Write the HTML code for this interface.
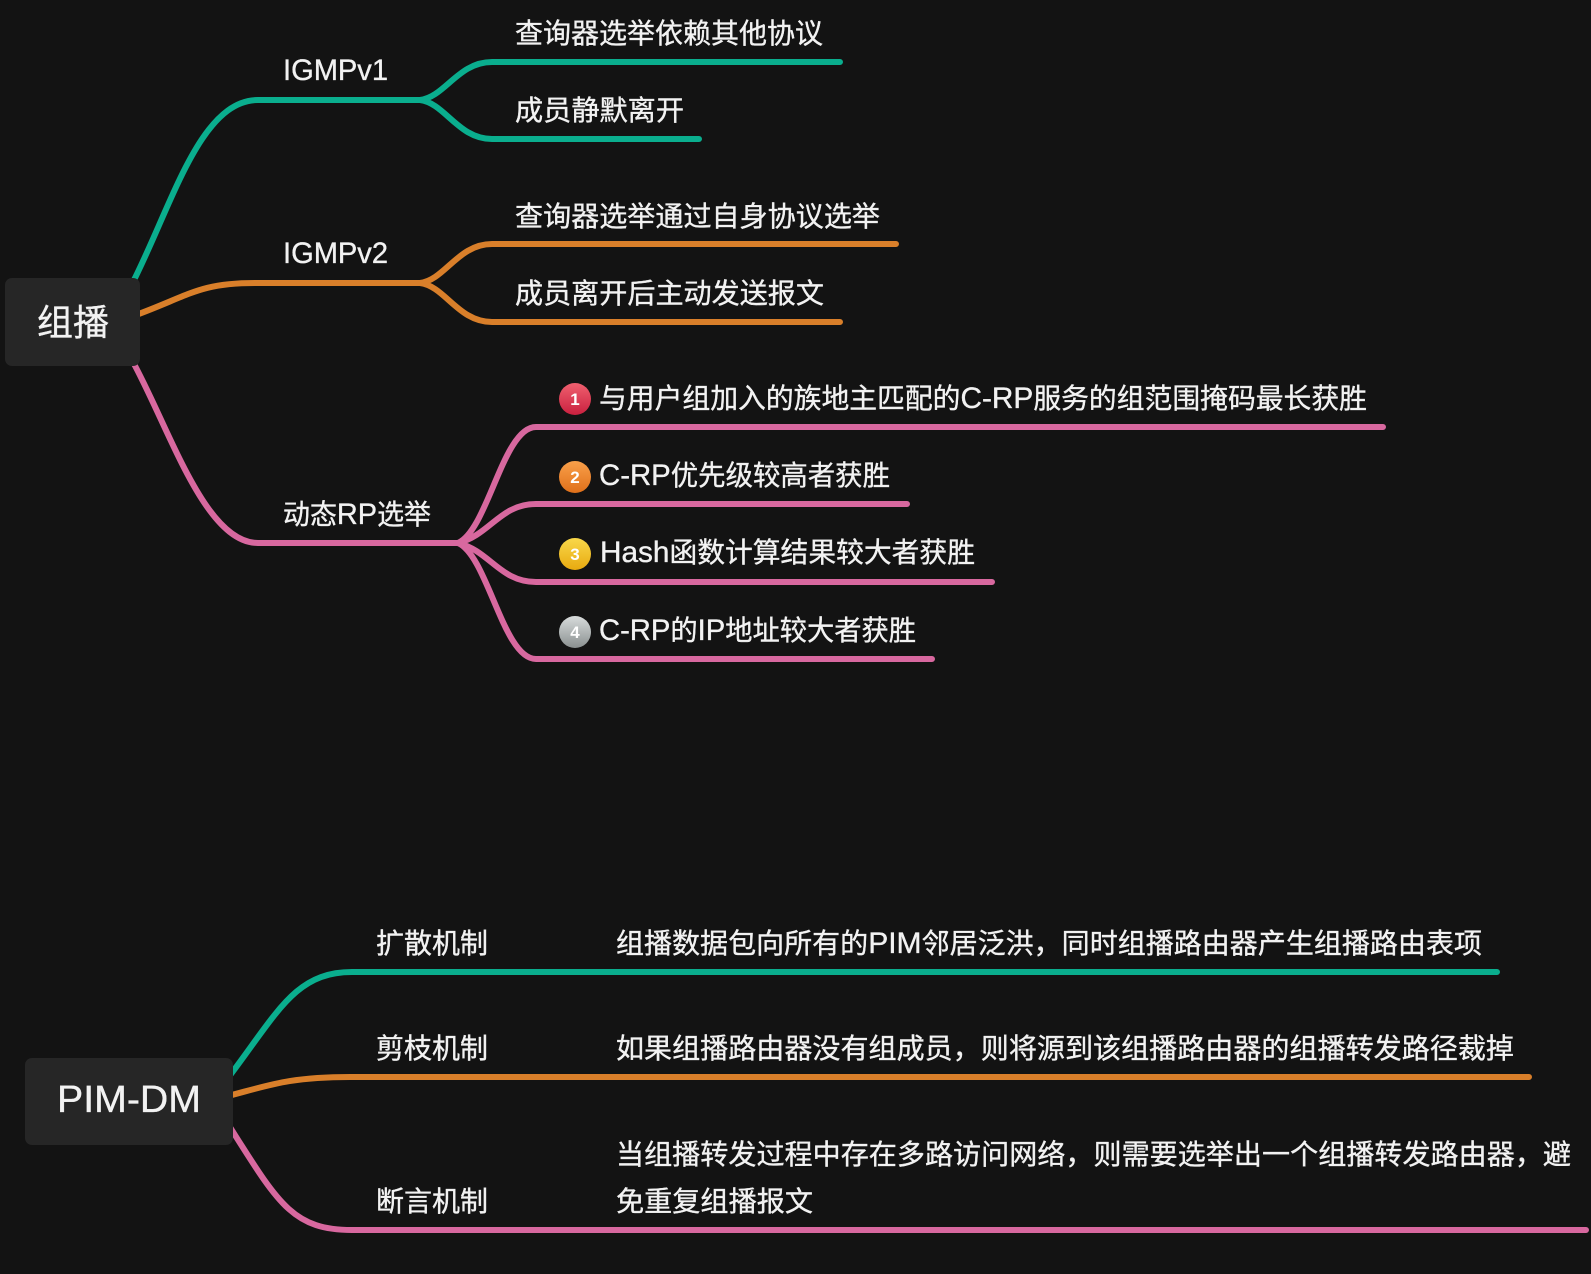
<!DOCTYPE html>
<html lang="zh">
<head>
<meta charset="utf-8">
<title>组播 / PIM-DM</title>
<style>
html,body{margin:0;padding:0;background:#131313;width:1591px;height:1274px;overflow:hidden}
svg{display:block}
text{font-family:"Liberation Sans","Noto Sans CJK SC",sans-serif;fill:#f2f2f2;font-size:28px;stroke:#f2f2f2;stroke-width:.35px}
tspan.L{font-size:30px}
.l{fill:none;stroke-width:6;stroke-linecap:round;stroke-linejoin:round}
.g{stroke:#0aae8e}.o{stroke:#d97f2a}.p{stroke:#d8689f}
.n{font-size:17px;font-weight:bold;text-anchor:middle;fill:#fff;stroke:none}
</style>
</head>
<body>
<svg width="1591" height="1274" viewBox="0 0 1591 1274" xmlns="http://www.w3.org/2000/svg">
<defs>
<linearGradient id="c1" x1="0" y1="0" x2="0" y2="1"><stop offset="0" stop-color="#f0606f"/><stop offset="1" stop-color="#c9203f"/></linearGradient>
<linearGradient id="c2" x1="0" y1="0" x2="0" y2="1"><stop offset="0" stop-color="#f9a04a"/><stop offset="1" stop-color="#e0701a"/></linearGradient>
<linearGradient id="c3" x1="0" y1="0" x2="0" y2="1"><stop offset="0" stop-color="#f9d84a"/><stop offset="1" stop-color="#e8aa10"/></linearGradient>
<linearGradient id="c4" x1="0" y1="0" x2="0" y2="1"><stop offset="0" stop-color="#d8dcdc"/><stop offset="1" stop-color="#8a9090"/></linearGradient>
</defs>
<rect width="1591" height="1274" fill="#131313"/>

<!-- map 1 connectors -->
<path class="l g" d="M133 282C172 205 200 100 258 100L425 100"/>
<path class="l g" d="M420 100C445 97 458 62 492 62L840 62"/>
<path class="l g" d="M420 100C445 103 458 139 492 139L699 139"/>
<path class="l o" d="M136 315C190 295 200 283 255 283L425 283"/>
<path class="l o" d="M420 283C445 280 458 244 492 244L896 244"/>
<path class="l o" d="M420 283C445 286 458 322 492 322L840 322"/>
<path class="l p" d="M133 362C170 430 205 543 258 543L460 543"/>
<path class="l p" d="M458 543C488 530 503 427 536 427L1383 427"/>
<path class="l p" d="M458 543C490 535 500 504 536 504L907 504"/>
<path class="l p" d="M458 543C490 551 500 582 536 582L992 582"/>
<path class="l p" d="M458 543C488 556 503 659 536 659L932 659"/>

<rect x="5" y="278" width="135" height="88" rx="7" fill="#262626"/>
<text x="37" y="335" style="font-size:36px" textLength="72" lengthAdjust="spacingAndGlyphs">组播</text>

<text x="283" y="80" style="font-size:30px" textLength="105" lengthAdjust="spacingAndGlyphs">IGMPv1</text>
<text x="283" y="263" style="font-size:30px" textLength="105" lengthAdjust="spacingAndGlyphs">IGMPv2</text>
<text x="283" y="524" textLength="148" lengthAdjust="spacingAndGlyphs">动态<tspan class="L">RP</tspan>选举</text>

<text x="515" y="43" textLength="308" lengthAdjust="spacingAndGlyphs">查询器选举依赖其他协议</text>
<text x="515" y="120" textLength="169" lengthAdjust="spacingAndGlyphs">成员静默离开</text>
<text x="515" y="226" textLength="365" lengthAdjust="spacingAndGlyphs">查询器选举通过自身协议选举</text>
<text x="515" y="303" textLength="309" lengthAdjust="spacingAndGlyphs">成员离开后主动发送报文</text>

<circle cx="575" cy="399" r="16" fill="url(#c1)"/><text class="n" x="575" y="405">1</text>
<circle cx="575" cy="477" r="16" fill="url(#c2)"/><text class="n" x="575" y="483">2</text>
<circle cx="575" cy="554" r="16" fill="url(#c3)"/><text class="n" x="575" y="560">3</text>
<circle cx="575" cy="632" r="16" fill="url(#c4)"/><text class="n" x="575" y="638">4</text>

<text x="599" y="408" textLength="768" lengthAdjust="spacingAndGlyphs">与用户组加入的族地主匹配的<tspan class="L">C-RP</tspan>服务的组范围掩码最长获胜</text>
<text x="599" y="485" textLength="291" lengthAdjust="spacingAndGlyphs"><tspan class="L">C-RP</tspan>优先级较高者获胜</text>
<text x="600" y="562" textLength="375" lengthAdjust="spacingAndGlyphs"><tspan class="L">Hash</tspan>函数计算结果较大者获胜</text>
<text x="599" y="640" textLength="317" lengthAdjust="spacingAndGlyphs"><tspan class="L">C-RP</tspan>的<tspan class="L">IP</tspan>地址较大者获胜</text>

<!-- map 2 connectors -->
<path class="l g" d="M228 1078C278 1012 295 972 352 972L1497 972"/>
<path class="l o" d="M228 1096C270 1085 290 1077 350 1077L1529 1077"/>
<path class="l p" d="M228 1124C278 1203 292 1230 352 1230L1586 1230"/>

<rect x="25" y="1058" width="208" height="87" rx="7" fill="#262626"/>
<text x="57" y="1112" style="font-size:38px" textLength="144" lengthAdjust="spacingAndGlyphs">PIM-DM</text>

<text x="376" y="953" textLength="112" lengthAdjust="spacingAndGlyphs">扩散机制</text>
<text x="376" y="1058" textLength="112" lengthAdjust="spacingAndGlyphs">剪枝机制</text>
<text x="376" y="1211" textLength="112" lengthAdjust="spacingAndGlyphs">断言机制</text>

<text x="616" y="953" textLength="866" lengthAdjust="spacingAndGlyphs">组播数据包向所有的<tspan class="L">PIM</tspan>邻居泛洪，同时组播路由器产生组播路由表项</text>
<text x="616" y="1058" textLength="898" lengthAdjust="spacingAndGlyphs">如果组播路由器没有组成员，则将源到该组播路由器的组播转发路径裁掉</text>
<text x="616" y="1164" textLength="955" lengthAdjust="spacingAndGlyphs">当组播转发过程中存在多路访问网络，则需要选举出一个组播转发路由器，避</text>
<text x="616" y="1211" textLength="197" lengthAdjust="spacingAndGlyphs">免重复组播报文</text>
</svg>
</body>
</html>
